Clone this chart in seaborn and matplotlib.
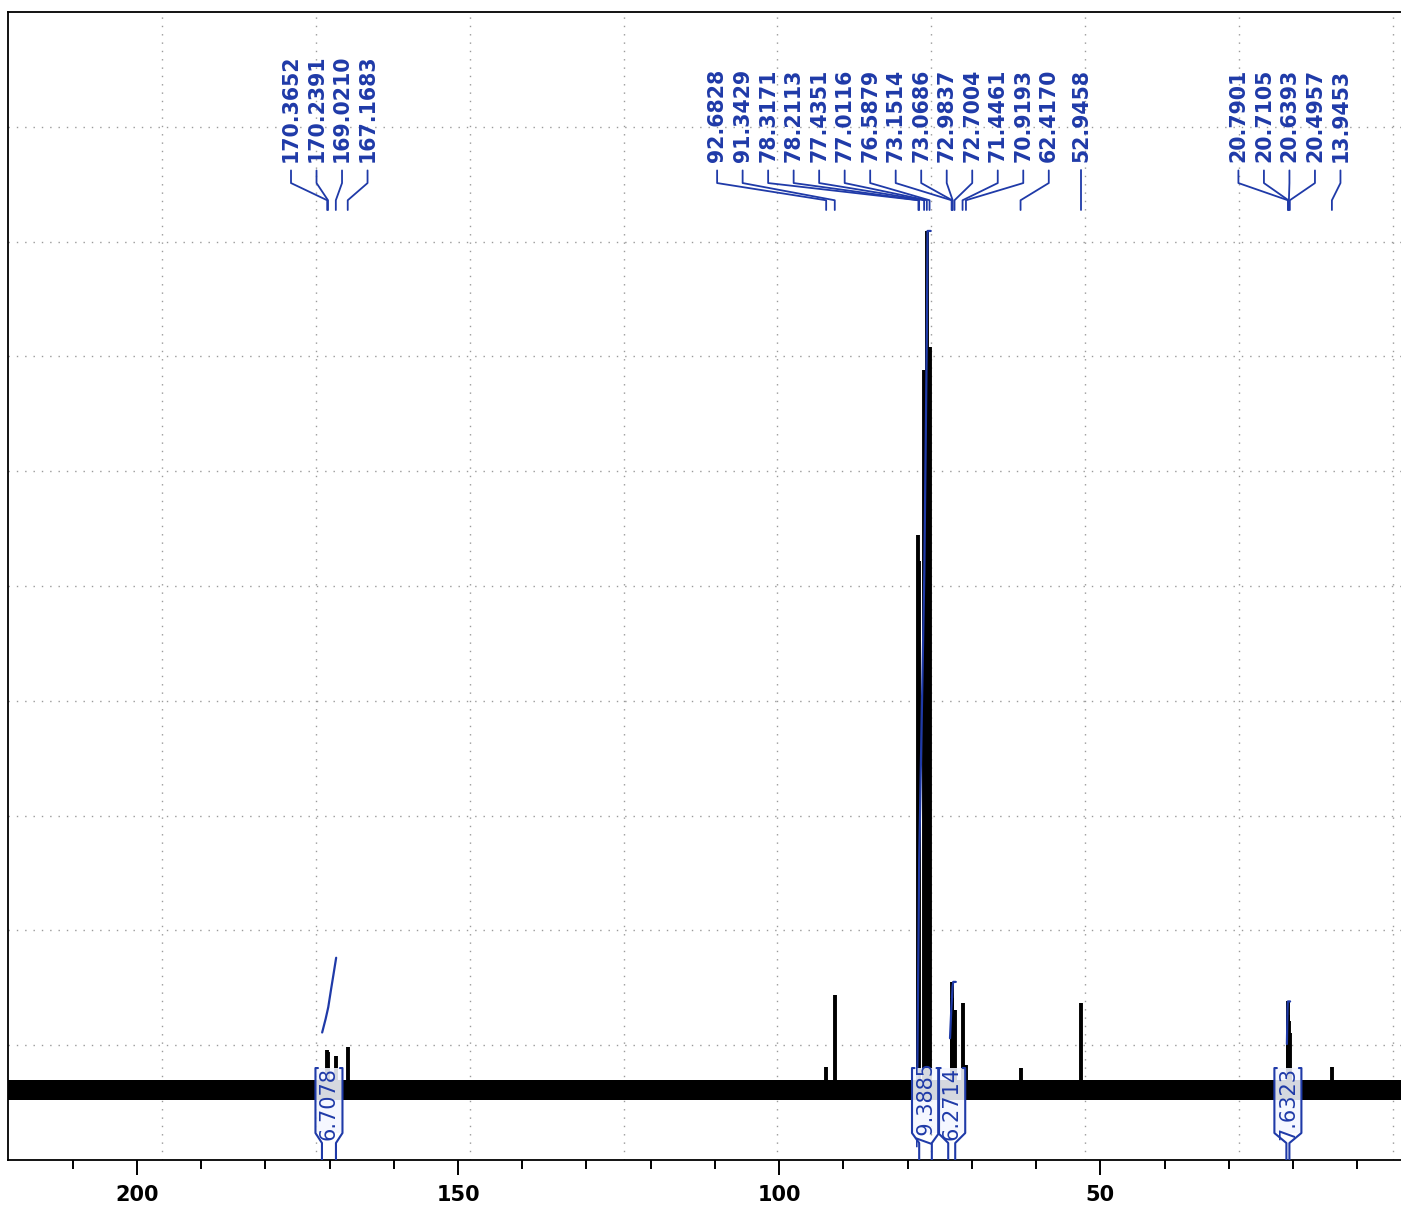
"""13C NMR spectrum with peak picks and integrals, redrawn with seaborn/matplotlib."""

import matplotlib

matplotlib.use("Agg")
import matplotlib.pyplot as plt
import numpy as np
import pandas as pd
import seaborn as sns

# picked peaks: chemical shift (ppm) and relative intensity (baseline = 0)
peak_ppm = [
    170.3652, 170.2391, 169.0210, 167.1683,
    92.6828, 91.3429, 78.3171, 78.2113, 77.4351, 77.0116, 76.5879,
    73.1514, 73.0686, 72.9837, 72.7004, 71.4461, 70.9193, 62.4170, 52.9458,
    20.7901, 20.7105, 20.6393, 20.4957, 13.9453,
]
peak_height = [
    0.35, 0.33, 0.30, 0.37,
    0.20, 0.83, 4.83, 4.60, 6.26, 7.47, 6.46,
    0.94, 0.80, 0.62, 0.70, 0.76, 0.22, 0.19, 0.76,
    0.77, 0.65, 0.60, 0.50, 0.20,
]
# label groups: index range into peak_ppm
label_groups = [(0, 4), (4, 18), (18, 19), (19, 24)]

# integrals: region start / end (ppm) and value
integral_start = [171.18, 78.20, 73.68, 21.03]
integral_end = [169.00, 76.23, 72.59, 20.56]
integral_value = ["6.7078", "79.3885", "6.2714", "7.6323"]
# integral traces (ppm, height)
integral_trace_ppm = [
    [171.15, 170.6, 170.2, 169.75, 169.4, 168.97],
    [78.5, 78.2, 77.4, 77.0, 76.9, 76.4],
    [73.4, 73.2, 73.0, 72.9, 72.5],
    [20.95, 20.85, 20.80, 20.45],
]
integral_trace_h = [
    [0.50, 0.62, 0.72, 0.88, 1.00, 1.15],
    [0.10, 2.00, 4.50, 6.60, 7.47, 7.47],
    [0.45, 0.70, 0.90, 0.94, 0.94],
    [0.40, 0.70, 0.77, 0.77],
]
noise_level = 0.085

BLUE = "#1f3aa8"
PX_PER_PPM = 6.42


def main() -> None:
    sns.set_theme(style="white")
    plt.rcParams["font.family"] = ["DejaVu Sans"]

    fig = plt.figure(figsize=(14.01, 12.05), dpi=100)
    ax = fig.add_axes([8 / 1401, 45 / 1205, 1396 / 1401, 1148 / 1205])
    ax.set_xlim(220.06, 2.72)
    ax.set_ylim(-70 / 115, 1078 / 115)

    xt = ax.get_xaxis_transform()
    grid_kw = dict(color="#9a9a9a", lw=1.0, ls=(0, (1, 5)), zorder=0)
    for k in range(1, 10):
        ax.plot([0, 1], [k / 10, k / 10], transform=ax.transAxes, **grid_kw)
    for k in range(9):
        ax.axvline(196.1 - k * 23.96, **grid_kw)

    # baseline noise band
    ax.fill_between([220.06, 2.72], -noise_level, noise_level, color="black", lw=0, zorder=2)

    # peaks
    spec = pd.DataFrame({"ppm": peak_ppm, "h": peak_height})
    ax.vlines(spec["ppm"], 0, spec["h"], color="black", lw=2.8, zorder=3)

    # integral traces
    for xs, hs in zip(integral_trace_ppm, integral_trace_h):
        tr = pd.DataFrame({"ppm": xs, "h": hs})
        sns.lineplot(data=tr, x="ppm", y="h", sort=False, color=BLUE, lw=1.6, ax=ax, zorder=4)

    # integral brackets
    hw = 13.5 / PX_PER_PPM
    hook = 2.5 / PX_PER_PPM
    top, knee, foot = 0.0801, 0.0235, 0.0148
    for s, e, val in zip(integral_start, integral_end, integral_value):
        cx = (s + e) / 2
        ax.fill_between([cx + hw, cx - hw], knee, top, transform=xt,
                        color="#f4f7ff", alpha=0.88, lw=0, zorder=5)
        ax.plot([cx + hw - hook, cx + hw, cx + hw, s, s], [top, top, knee, foot, 0],
                transform=xt, color=BLUE, lw=1.5, zorder=6)
        ax.plot([cx - hw + hook, cx - hw, cx - hw, e, e], [top, top, knee, foot, 0],
                transform=xt, color=BLUE, lw=1.5, zorder=6)
        ax.text(cx, 0.0488, val, transform=xt, rotation=90, ha="center", va="center",
                fontsize=15, color=BLUE, zorder=7)

    # peak labels with leader lines
    spacing = 25.5 / PX_PER_PPM
    starts = [176.0, 109.66, None, 28.5]
    for (i0, i1), x0 in zip(label_groups, starts):
        for j, i in enumerate(range(i0, i1)):
            p = peak_ppm[i]
            lx = p if x0 is None else x0 - j * spacing
            ax.text(lx, 0.8693, f"{p:.4f}", transform=xt, rotation=90, ha="center",
                    va="bottom", fontsize=14.8, fontweight="bold", color=BLUE)
            ax.plot([lx, lx, p, p], [0.862, 0.851, 0.836, 0.8275], transform=xt,
                    color=BLUE, lw=1.3)

    ax.set_xticks([200, 150, 100, 50])
    ax.set_xticks(np.arange(10, 220, 10), minor=True)
    ax.set_yticks([])
    ax.set_xlabel("")
    ax.set_ylabel("")
    ax.tick_params(axis="x", which="major", length=10.8, width=1.4, direction="out",
                   pad=7, labelsize=15, bottom=True, color="black", labelcolor="black")
    ax.tick_params(axis="x", which="minor", length=6.5, width=1.4, direction="out",
                   bottom=True, color="black")
    for lab in ax.get_xticklabels():
        lab.set_fontweight("bold")
    for side in ["left", "top", "bottom", "right"]:
        ax.spines[side].set_color("black")
        ax.spines[side].set_linewidth(1.3)
    ax.set_facecolor("white")

    fig.savefig("out.png", dpi=100, facecolor="white")
    plt.close(fig)


if __name__ == "__main__":
    main()
